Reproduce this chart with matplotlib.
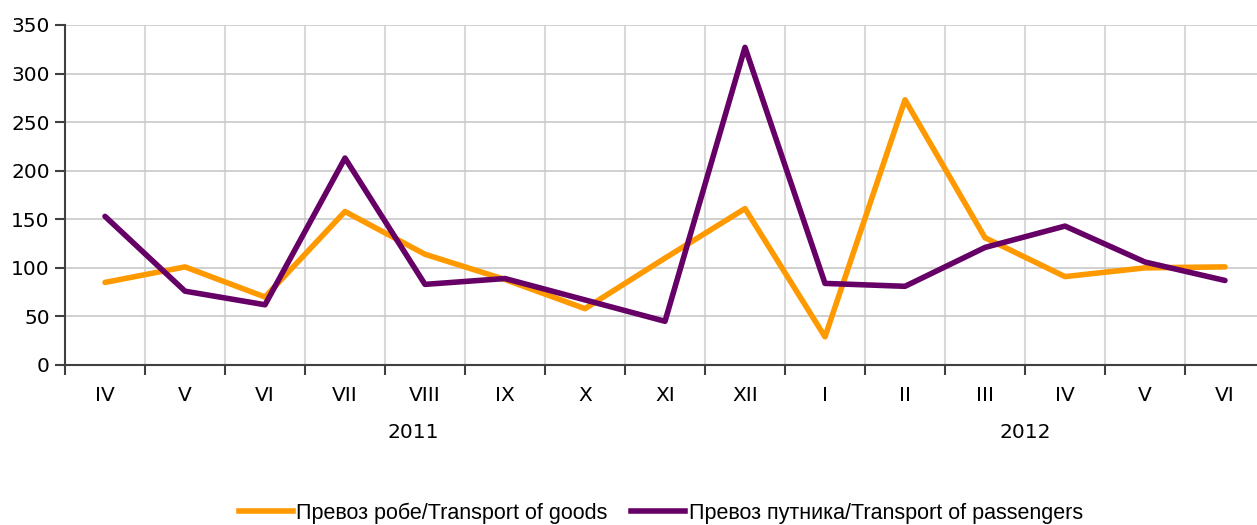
import numpy as np
import matplotlib.pyplot as plt
from matplotlib.lines import Line2D

# ----------------------------
# data
# ----------------------------

months = ["IV", "V", "VI", "VII", "VIII", "IX", "X", "XI", "XII",
          "I", "II", "III", "IV", "V", "VI"]
years = ["2011", "2012"]
year_span = [(0, 8), (9, 14)]

goods = [85, 101, 70, 158, 114, 88, 58, 110, 161,
         29, 273, 131, 91, 100, 101]
passengers = [153, 76, 62, 213, 83, 89, 67, 45, 327,
              84, 81, 121, 143, 106, 87]

label_goods = "Превоз робе/Transport of goods"
label_pass = "Превоз путника/Transport of passengers"

ORANGE = "#FF9900"
PURPLE = "#660066"
LW = 4.0

plt.rcParams['font.family'] = ['DejaVu Sans']

fig = plt.figure(figsize=(12.57, 5.25), dpi=100)
# plot area runs a little past the right edge of the image, as in the original
ax = fig.add_axes([65 / 1257, 1 - 365 / 525, 1200 / 1257, 340 / 525])

x = np.arange(len(months))
ax.plot(x, goods, color=ORANGE, lw=LW, solid_capstyle="round", zorder=3)
ax.plot(x, passengers, color=PURPLE, lw=LW, solid_capstyle="round", zorder=3)

ax.set_xlim(-0.5, len(months) - 0.5)
ax.set_ylim(0, 350)
ax.set_yticks(range(0, 351, 50))

# category boundaries -> gridlines + ticks
bounds = np.arange(-0.5, len(months) - 0.4, 1.0)
ax.set_xticks(bounds)
ax.set_xticklabels([])
ax.set_xticks(x, minor=True)
ax.set_xticklabels(months, minor=True)
ax.tick_params(axis="x", which="minor", length=0, pad=15, labelsize=14.5)
ax.tick_params(axis="x", which="major", length=7, width=1.5, color="#404040")
ax.tick_params(axis="y", length=7, width=1.5, color="#404040", labelsize=14.5, pad=4)

for b in bounds[1:-1]:
    ax.axvline(b, color="#d9d9d9", lw=1.5, zorder=1)
for v in range(50, 351, 50):
    ax.axhline(v, color="#c8c8c8", lw=1.2, zorder=1)

for s in ["top", "right"]:
    ax.spines[s].set_visible(False)
ax.spines["left"].set_color("#404040")
ax.spines["bottom"].set_color("#404040")
ax.spines["left"].set_linewidth(1.5)
ax.spines["bottom"].set_linewidth(1.5)

# year labels under the months
for yr, (a, b) in zip(years, year_span):
    ax.text((a + b) / 2 - (0.15 if yr == "2011" else 0.0), -70, yr,
            ha="center", va="center", fontsize=14.5)

handles = [Line2D([], [], color=ORANGE, lw=LW),
           Line2D([], [], color=PURPLE, lw=LW)]
fig.legend(handles, [label_goods, label_pass], loc="center",
           bbox_to_anchor=(661 / 1257, 1 - 513 / 525), ncol=2, frameon=False,
           prop={"family": "Liberation Sans", "size": 15.5},
           handlelength=2.5, handletextpad=0.15, columnspacing=1.1)

fig.savefig("out.png", dpi=100)
